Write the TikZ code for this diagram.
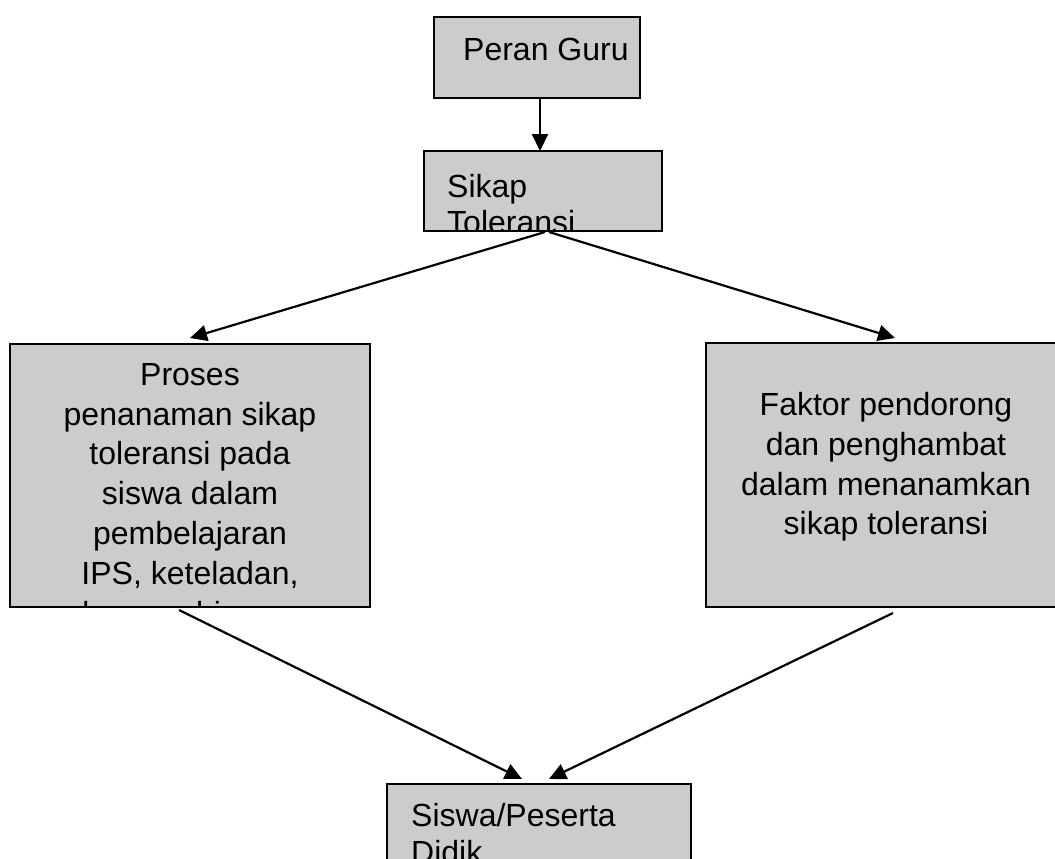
\documentclass[tikz,border=0pt]{standalone}
\usepackage{fontspec}
\setmainfont{Liberation Sans}
\usetikzlibrary{arrows.meta}
\definecolor{boxgray}{HTML}{CCCCCC}
\begin{document}
\begin{tikzpicture}[x=1pt,y=-1pt,
  boxfill/.style={fill=boxgray, draw=none, inner sep=0pt, outer sep=0pt},
  boxline/.style={draw=black, line width=2.6pt},
  conn/.style={draw=black, line width=2.2pt, -{Triangle[length=17pt,width=16pt]}},
  lbl/.style={inner sep=0pt, font=\fontsize{32}{36}\selectfont, align=left, anchor=north west},
  lblb/.style={inner sep=0pt, font=\fontsize{32}{37.5}\selectfont, align=left, anchor=north west},
  clbl/.style={inner sep=0pt, font=\fontsize{32}{39.8}\selectfont, align=center, anchor=north}]
\useasboundingbox (0,0) rectangle (1055,859);

% boxes (fill)
\node[boxfill, minimum width=206pt, minimum height=81pt] (peran) at (537,57.5) {};
\node[boxfill, minimum width=238pt, minimum height=80pt] (sikap) at (543,191) {};
\node[boxfill, minimum width=360pt, minimum height=263pt] (proses) at (190,475.5) {};
\node[boxfill, minimum width=356pt, minimum height=264pt] (faktor) at (884,475) {};
\node[boxfill, minimum width=304pt, minimum height=116pt] (siswa) at (539,842) {};

% texts, clipped to their boxes
\begin{scope}
  \clip (peran.north west) rectangle (peran.south east);
  \node[lbl] (tperan) at (463,35.5) {\strut Peran Guru};
\end{scope}
\begin{scope}
  \clip (sikap.north west) rectangle (sikap.south east);
  \node[lbl] (tsikap) at (447,172) {\strut Sikap\\\strut Toleransi};
\end{scope}
\begin{scope}
  \clip (proses.north west) rectangle (proses.south east);
  \node[clbl] (tproses) at (190,357.3) {\strut Proses\\\strut penanaman sikap\\\strut toleransi pada\\\strut siswa dalam\\\strut pembelajaran\\\strut IPS, keteladan,\\\strut dan pembiasaan};
\end{scope}
\begin{scope}
  \clip (faktor.north west) rectangle (faktor.south east);
  \node[clbl] (tfaktor) at (886,387.5) {\strut Faktor pendorong\\\strut dan penghambat\\\strut dalam menanamkan\\\strut sikap toleransi};
\end{scope}
\begin{scope}
  \clip (siswa.north west) rectangle (siswa.south east);
  \node[lblb] (tsiswa) at (411,799.8) {\strut Siswa/Peserta\\\strut Didik};
\end{scope}

% borders
\foreach \b in {peran,sikap,proses,faktor,siswa}
  \draw[boxline] (\b.north west) rectangle (\b.south east);

% connector end points
\coordinate (c1s) at (540,98);
\coordinate (c1e) at (540,151);
\coordinate (c2s) at (545,232);
\coordinate (c2e) at (190,338);
\coordinate (c3s) at (549,232);
\coordinate (c3e) at (895,338);
\coordinate (c4s) at (179,610);
\coordinate (c4e) at (522,779);
\coordinate (c5s) at (893,613);
\coordinate (c5e) at (549,779);

\draw[conn] (c1s) -- (c1e);
\draw[conn] (c2s) -- (c2e);
\draw[conn] (c3s) -- (c3e);
\draw[conn] (c4s) -- (c4e);
\draw[conn] (c5s) -- (c5e);
\end{tikzpicture}
\end{document}
